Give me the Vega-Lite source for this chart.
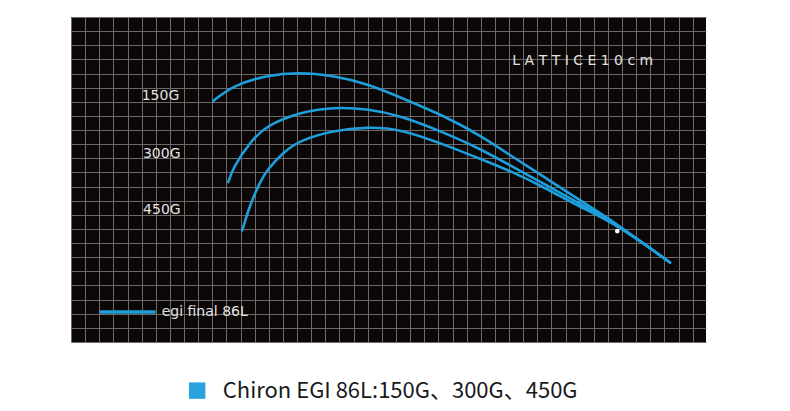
{
  "$schema": "https://vega.github.io/schema/vega-lite/v6.json",
  "width": 635,
  "height": 325,
  "autosize": {"type": "none"},
  "padding": {"left": 71, "top": 17, "right": 84, "bottom": 69},
  "background": "#ffffff",
  "config": {
    "view": {"fill": "#0b0707", "stroke": null},
    "axis": {"grid": true, "gridColor": "#6e6868", "gridWidth": 1, "gridOpacity": 1, "labels": false, "ticks": false, "domain": false, "title": null}
  },
  "datasets": {
    "curves": [
      {"load": "150G", "x": 100.7, "y": 170.6},
      {"load": "150G", "x": 114.6, "y": 181.6},
      {"load": "150G", "x": 138.5, "y": 188.7},
      {"load": "150G", "x": 160.6, "y": 191.0},
      {"load": "150G", "x": 185.4, "y": 188.7},
      {"load": "150G", "x": 209.3, "y": 182.8},
      {"load": "150G", "x": 232.8, "y": 173.3},
      {"load": "150G", "x": 265.9, "y": 159.2},
      {"load": "150G", "x": 289.4, "y": 146.2},
      {"load": "150G", "x": 312.8, "y": 130.9},
      {"load": "150G", "x": 336.7, "y": 115.6},
      {"load": "150G", "x": 360.2, "y": 100.2},
      {"load": "150G", "x": 385.0, "y": 84.6},
      {"load": "150G", "x": 423.9, "y": 56.3},
      {"load": "300G", "x": 111.3, "y": 113.2},
      {"load": "300G", "x": 114.9, "y": 123.8},
      {"load": "300G", "x": 126.7, "y": 141.5},
      {"load": "300G", "x": 138.5, "y": 153.3},
      {"load": "300G", "x": 162.1, "y": 162.7},
      {"load": "300G", "x": 185.6, "y": 166.2},
      {"load": "300G", "x": 209.3, "y": 165.1},
      {"load": "300G", "x": 232.8, "y": 160.4},
      {"load": "300G", "x": 265.9, "y": 147.4},
      {"load": "300G", "x": 289.4, "y": 136.8},
      {"load": "300G", "x": 313.0, "y": 123.8},
      {"load": "300G", "x": 336.7, "y": 110.8},
      {"load": "300G", "x": 360.2, "y": 97.9},
      {"load": "300G", "x": 385.0, "y": 84.3},
      {"load": "300G", "x": 423.9, "y": 56.3},
      {"load": "450G", "x": 121.2, "y": 79.0},
      {"load": "450G", "x": 126.7, "y": 97.4},
      {"load": "450G", "x": 133.8, "y": 113.2},
      {"load": "450G", "x": 138.5, "y": 121.4},
      {"load": "450G", "x": 150.2, "y": 134.4},
      {"load": "450G", "x": 162.1, "y": 142.7},
      {"load": "450G", "x": 185.6, "y": 149.8},
      {"load": "450G", "x": 209.3, "y": 152.1},
      {"load": "450G", "x": 232.8, "y": 151.0},
      {"load": "450G", "x": 265.9, "y": 139.1},
      {"load": "450G", "x": 289.4, "y": 129.7},
      {"load": "450G", "x": 313.0, "y": 120.2},
      {"load": "450G", "x": 336.7, "y": 108.5},
      {"load": "450G", "x": 360.2, "y": 95.5},
      {"load": "450G", "x": 385.0, "y": 83.9},
      {"load": "450G", "x": 423.9, "y": 56.3}
    ],
    "loadLabels": [
      {"label": "150G", "x": 63.3, "y": 173.8},
      {"label": "300G", "x": 64.2, "y": 133.3},
      {"label": "450G", "x": 64.3, "y": 93.6}
    ],
    "dot": [{"x": 386.6, "y": 78.5}],
    "lattice": [{"label": "L A T T I C E 1 0 c m", "x": 362.2, "y": 198.8}],
    "keyLine": [{"x": 20.2, "y": 21.2}, {"x": 59.9, "y": 21.2}],
    "keyText": [{"label": "egi final 86L", "x": 64.2, "y": 21.2}],
    "footer": [{"label": "Chiron EGI 86L:150G、300G、450G", "x": 89.3, "y": -34.4, "tx": 107.4}]
  },
  "encoding": {
    "x": {"type": "quantitative", "scale": {"domain": [0, 449.4], "nice": false, "zero": false}, "axis": {"values": [0,10,20,30,40,50,60,70,80,90,100,110,120,130,140,150,160,170,180,190,200,210,220,230,240,250,260,270,280,290,300,310,320,330,340,350,360,370,380,390,400,410,420,430,440]}},
    "y": {"type": "quantitative", "scale": {"domain": [0, 230], "nice": false, "zero": false}, "axis": {"values": [0,10,20,30,40,50,60,70,80,90,100,110,120,130,140,150,160,170,180,190,200,210,220,230]}}
  },
  "layer": [
    {
      "data": {"name": "curves"},
      "mark": {"type": "line", "interpolate": "basis", "color": "#1e9fdc", "strokeWidth": 2.6, "strokeCap": "round", "clip": false},
      "encoding": {"x": {"field": "x", "type": "quantitative"}, "y": {"field": "y", "type": "quantitative"}, "detail": {"field": "load"}}
    },
    {
      "data": {"name": "dot"},
      "mark": {"type": "point", "filled": true, "color": "#ffffff", "size": 22, "opacity": 1},
      "encoding": {"x": {"field": "x", "type": "quantitative"}, "y": {"field": "y", "type": "quantitative"}}
    },
    {
      "data": {"name": "loadLabels"},
      "mark": {"type": "text", "font": "DejaVu Sans", "fontSize": 14, "color": "#e2e2e2", "align": "center", "baseline": "middle"},
      "encoding": {"x": {"field": "x", "type": "quantitative"}, "y": {"field": "y", "type": "quantitative"}, "text": {"field": "label"}}
    },
    {
      "data": {"name": "lattice"},
      "mark": {"type": "text", "font": "DejaVu Sans", "fontSize": 14, "color": "#e2e2e2", "align": "center", "baseline": "middle"},
      "encoding": {"x": {"field": "x", "type": "quantitative"}, "y": {"field": "y", "type": "quantitative"}, "text": {"field": "label"}}
    },
    {
      "data": {"name": "keyLine"},
      "mark": {"type": "line", "color": "#1e9fdc", "strokeWidth": 3.5},
      "encoding": {"x": {"field": "x", "type": "quantitative"}, "y": {"field": "y", "type": "quantitative"}}
    },
    {
      "data": {"name": "keyText"},
      "mark": {"type": "text", "font": "DejaVu Sans", "fontSize": 14, "color": "#e2e2e2", "align": "left", "baseline": "middle"},
      "encoding": {"x": {"field": "x", "type": "quantitative"}, "y": {"field": "y", "type": "quantitative"}, "text": {"field": "label"}}
    },
    {
      "data": {"name": "footer"},
      "mark": {"type": "square", "filled": true, "color": "#29a3de", "size": 270, "opacity": 1, "clip": false},
      "encoding": {"x": {"field": "x", "type": "quantitative"}, "y": {"field": "y", "type": "quantitative"}}
    },
    {
      "data": {"name": "footer"},
      "mark": {"type": "text", "font": "Noto Sans CJK JP", "fontSize": 22, "color": "#1a1a1a", "align": "left", "baseline": "middle", "clip": false},
      "encoding": {"x": {"field": "tx", "type": "quantitative"}, "y": {"field": "y", "type": "quantitative"}, "text": {"field": "label"}}
    }
  ]
}
